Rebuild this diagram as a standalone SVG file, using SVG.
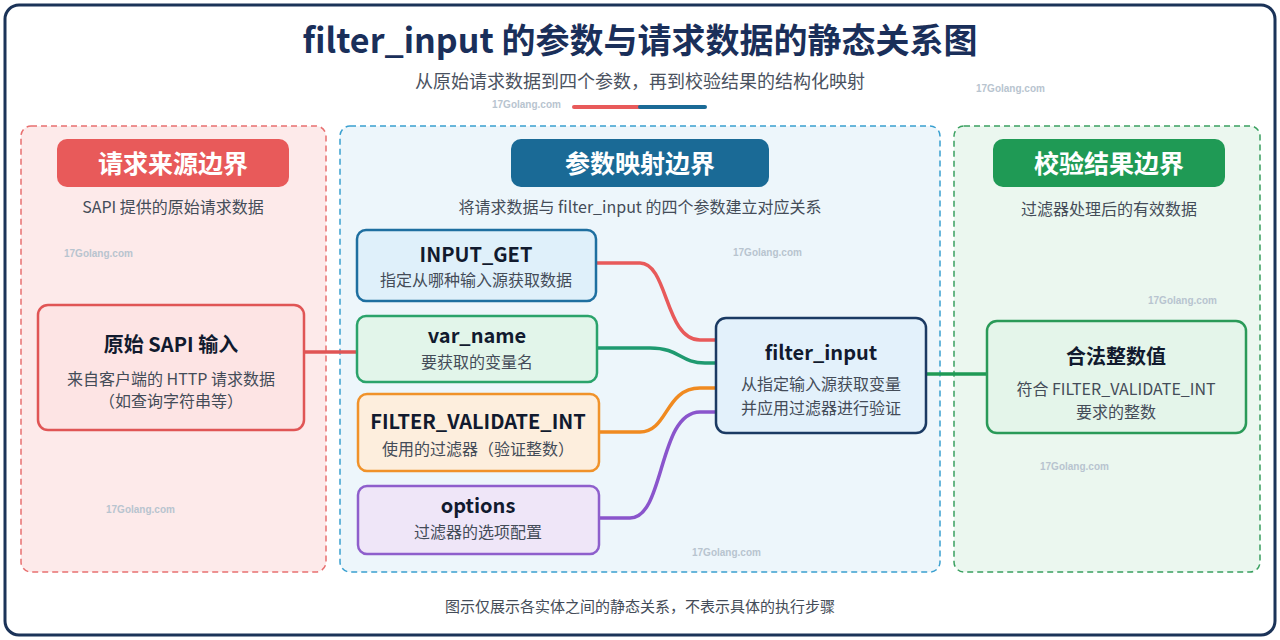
<svg xmlns="http://www.w3.org/2000/svg" width="1280" height="640" viewBox="0 0 1280 640">
<style>
text{font-family:"Noto Sans CJK SC","Noto Sans",sans-serif;text-anchor:middle}
.t{font-weight:bold;fill:#111a2e;font-size:20px}
.s{fill:#444c58;font-size:16px}
.h{font-weight:bold;fill:#fff;font-size:25px}
.c{fill:none;stroke-width:3.5;stroke-linecap:round}
.wm{fill:#b8c4cf;font-size:10px;font-family:"Liberation Sans",sans-serif;font-weight:bold;text-anchor:start}
</style>
<rect x="0" y="0" width="1280" height="640" fill="#fff"/>
<rect x="5" y="5" width="1270" height="630" rx="14" fill="#fff" stroke="#1b3358" stroke-width="3"/>
<text x="640" y="53" font-size="34" font-weight="bold" fill="#1a2f5a">filter_input 的参数与请求数据的静态关系图</text>
<text x="640" y="88" font-size="18" fill="#4a5260">从原始请求数据到四个参数，再到校验结果的结构化映射</text>
<line x1="574" y1="107" x2="640" y2="107" stroke="#e85a5a" stroke-width="4" stroke-linecap="round"/>
<line x1="640" y1="107" x2="705" y2="107" stroke="#1a6a96" stroke-width="4" stroke-linecap="round"/>
<g id="panels">
<rect x="21" y="126" width="305" height="446" rx="10" fill="#fdeaea" stroke="#e87070" stroke-width="1.5" stroke-dasharray="6 4"/>
<rect x="340" y="126" width="600" height="446" rx="10" fill="#edf6fb" stroke="#3aa0d0" stroke-width="1.5" stroke-dasharray="6 4"/>
<rect x="954" y="126" width="306" height="446" rx="10" fill="#ebf7ef" stroke="#3aa060" stroke-width="1.5" stroke-dasharray="6 4"/>
<rect x="57" y="139" width="232" height="48" rx="10" fill="#e85a5a"/>
<text class="h" x="173" y="173">请求来源边界</text>
<rect x="511" y="139" width="258" height="48" rx="10" fill="#1a6a96"/>
<text class="h" x="640" y="173">参数映射边界</text>
<rect x="993" y="139" width="232" height="48" rx="10" fill="#1f9a55"/>
<text class="h" x="1109" y="173">校验结果边界</text>
<text class="s" x="173" y="213">SAPI 提供的原始请求数据</text>
<text class="s" x="640" y="213">将请求数据与 filter_input 的四个参数建立对应关系</text>
<text class="s" x="1109" y="215">过滤器处理后的有效数据</text>
</g>
<g id="watermarks">
<text class="wm" x="492" y="108">17Golang.com</text>
<text class="wm" x="976" y="92">17Golang.com</text>
<text class="wm" x="64" y="257">17Golang.com</text>
<text class="wm" x="733" y="256">17Golang.com</text>
<text class="wm" x="1148" y="304">17Golang.com</text>
<text class="wm" x="1040" y="470">17Golang.com</text>
<text class="wm" x="106" y="513">17Golang.com</text>
<text class="wm" x="692" y="556">17Golang.com</text>
</g>
<g id="connectors">
<path class="c" d="M304 352 H357" stroke="#e05555"/>
<path class="c" d="M596 263 H640 C668 263 665 340 700 340 H716" stroke="#e85a5a"/>
<path class="c" d="M597 348 H650 C680 348 680 363 705 363 H716" stroke="#1f9a70"/>
<path class="c" d="M599 432 H640 C668 432 665 388 700 388 H716" stroke="#f08a20"/>
<path class="c" d="M599 518 H630 C665 518 658 412 700 412 H716" stroke="#8a55cc"/>
<path class="c" d="M926 374 H987" stroke="#1f9a55"/>
</g>
<g id="n_sapi">
<rect x="38" y="305" width="266" height="125" rx="10" fill="#fde4e4" stroke="#e05555" stroke-width="2.5"/>
<text class="t" x="171" y="352" font-size="23">原始 SAPI 输入</text>
<text class="s" x="171" y="385">来自客户端的 HTTP 请求数据</text>
<text class="s" x="171" y="407">（如查询字符串等）</text>
</g>
<g id="n_input_get">
<rect x="357" y="230" width="239" height="71" rx="9" fill="#dff0fa" stroke="#1e6fa0" stroke-width="2.5"/>
<text class="t" x="476" y="262" font-size="19">INPUT_GET</text>
<text class="s" x="476" y="286">指定从哪种输入源获取数据</text>
</g>
<g id="n_var_name">
<rect x="357" y="316" width="240" height="66" rx="9" fill="#e2f5ea" stroke="#2aa36b" stroke-width="2.5"/>
<text class="t" x="477" y="343" font-size="19">var_name</text>
<text class="s" x="477" y="368">要获取的变量名</text>
</g>
<g id="n_filter">
<rect x="358" y="394" width="241" height="77" rx="9" fill="#fdeedd" stroke="#f0922a" stroke-width="2.5"/>
<text class="t" x="478" y="429" font-size="19">FILTER_VALIDATE_INT</text>
<text class="s" x="478" y="455">使用的过滤器（验证整数）</text>
</g>
<g id="n_options">
<rect x="358" y="486" width="241" height="68" rx="9" fill="#efe6f8" stroke="#8e5fcc" stroke-width="2.5"/>
<text class="t" x="478" y="513" font-size="19">options</text>
<text class="s" x="478" y="538">过滤器的选项配置</text>
</g>
<g id="n_filter_input">
<rect x="716" y="318" width="210" height="115" rx="10" fill="#e3f1fb" stroke="#1b3a63" stroke-width="2.5"/>
<text class="t" x="821" y="360" font-size="26">filter_input</text>
<text class="s" x="821" y="390">从指定输入源获取变量</text>
<text class="s" x="821" y="414">并应用过滤器进行验证</text>
</g>
<g id="n_result">
<rect x="987" y="321" width="259" height="112" rx="10" fill="#e4f5ea" stroke="#2a9a58" stroke-width="2.5"/>
<text class="t" x="1116" y="364" font-size="23">合法整数值</text>
<text class="s" x="1116" y="395">符合 FILTER_VALIDATE_INT</text>
<text class="s" x="1116" y="418">要求的整数</text>
</g>
<text x="640" y="612" font-size="15" fill="#444c58">图示仅展示各实体之间的静态关系，不表示具体的执行步骤</text>
</svg>
